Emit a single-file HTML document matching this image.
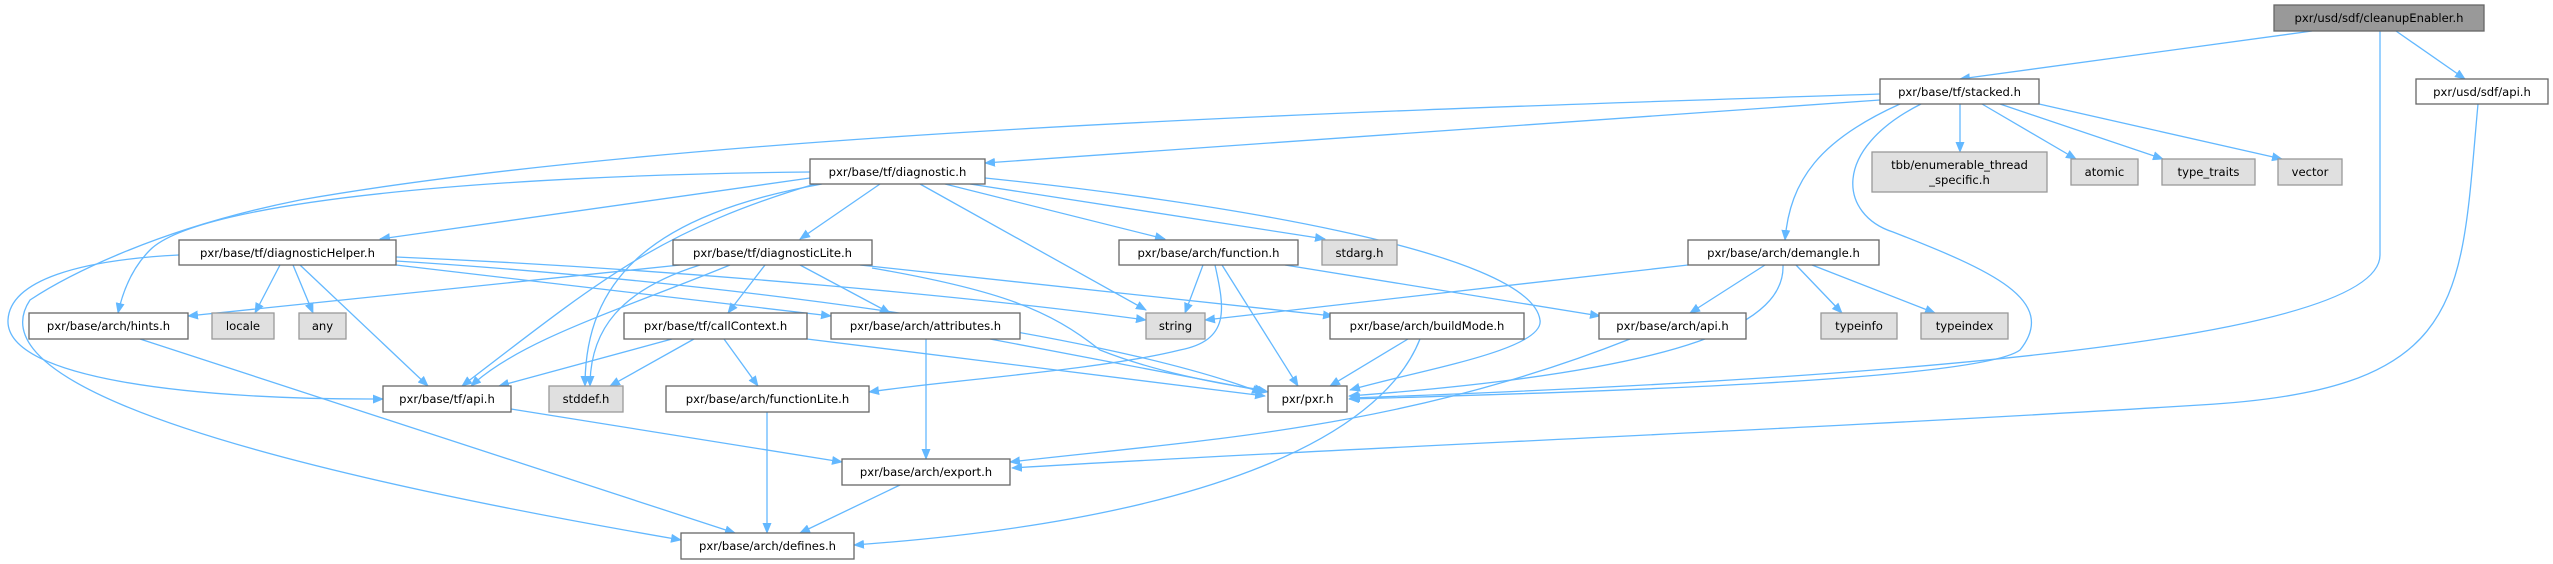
<!DOCTYPE html>
<html><head><meta charset="utf-8"><style>
html,body{margin:0;padding:0;background:#fff;}
svg{display:block}
text{font-family:"DejaVu Sans","Liberation Sans",sans-serif;font-size:11.6px;fill:#000;text-anchor:middle;}
.n{fill:#fff;stroke:#666;stroke-width:1.3}
.g{fill:#e0e0e0;stroke:#999;stroke-width:1.3}
.e{fill:none;stroke:#63b8ff;stroke-width:1.3}
</style></head><body>
<svg width="2553" height="564" viewBox="0 0 2553 564" xmlns="http://www.w3.org/2000/svg">
<defs><marker id="a" markerUnits="userSpaceOnUse" markerWidth="11" markerHeight="9" refX="10" refY="4.5" orient="auto"><path d="M0,0 L11,4.5 L0,9 z" fill="#63b8ff"/></marker></defs>
<g class="e" marker-end="url(#a)">
<path d="M2312,31 L1960,79"/>
<path d="M2380,31 L2380,255 C2380,330 2000,375 1350,398"/>
<path d="M2396,31 L2465,79"/>
<path d="M2478,104 C2460,300 2470,390 2200,405 C1800,430 1300,450 1012,468"/>
<path d="M1880,100 L985,163"/>
<path d="M1880,94 C1400,110 700,130 300,200 C150,230 60,280 30,300 C-10,360 100,440 681,540"/>
<path d="M1921,104 C1830,150 1840,215 1893,232 C1990,270 2060,300 2020,350 C1980,380 1600,392 1349,399"/>
<path d="M1900,104 C1820,140 1790,180 1785,240"/>
<path d="M1960,104 L1960,152"/>
<path d="M1982,104 L2076,159"/>
<path d="M2000,104 L2163,159"/>
<path d="M2039,104 L2282,159"/>
<path d="M810,178 L380,239"/>
<path d="M880,184 L800,239"/>
<path d="M815,184 C660,230 600,280 462,386"/>
<path d="M822,184 C650,215 585,280 585,386"/>
<path d="M920,184 L1146,310"/>
<path d="M945,184 L1165,239"/>
<path d="M970,184 L1325,239"/>
<path d="M985,178 C1200,200 1530,250 1540,320 C1545,350 1420,370 1350,390"/>
<path d="M810,172 C500,175 200,200 150,250 C130,270 122,295 118,313"/>
<path d="M280,265 L255,313"/>
<path d="M293,265 L313,313"/>
<path d="M300,265 L428,386"/>
<path d="M396,265 L831,316"/>
<path d="M396,257 C700,270 1000,300 1146,320"/>
<path d="M396,261 C700,280 1100,330 1262,393"/>
<path d="M179,255 C80,260 10,280 8,320 C5,380 200,400 383,399"/>
<path d="M680,265 L188,316"/>
<path d="M765,265 L728,313"/>
<path d="M800,265 L890,313"/>
<path d="M730,265 C620,310 520,340 471,386"/>
<path d="M700,265 C620,290 590,330 590,386"/>
<path d="M860,265 L1333,316"/>
<path d="M872,268 C1000,290 1050,310 1100,350 C1150,370 1220,385 1265,390"/>
<path d="M672,339 L499,386"/>
<path d="M694,339 L610,386"/>
<path d="M724,339 L758,386"/>
<path d="M807,339 L1265,396"/>
<path d="M926,339 L926,459"/>
<path d="M990,339 L1268,392"/>
<path d="M1203,265 L1185,313"/>
<path d="M1215,265 C1225,310 1230,340 1180,350 C1100,370 950,380 869,392"/>
<path d="M1222,265 L1298,386"/>
<path d="M1285,265 L1600,316"/>
<path d="M1408,339 L1330,386"/>
<path d="M1420,339 C1380,440 1200,520 854,545"/>
<path d="M1630,339 C1400,430 1200,440 1010,462"/>
<path d="M1688,265 L1205,320"/>
<path d="M1765,265 L1690,313"/>
<path d="M1783,265 C1785,320 1700,370 1349,396"/>
<path d="M1796,265 L1842,313"/>
<path d="M1812,265 L1935,313"/>
<path d="M511,409 L842,462"/>
<path d="M767,412 L767,533"/>
<path d="M900,485 L800,533"/>
<path d="M140,339 L735,533"/>
</g>
<g>
<rect x="2274" y="5" width="210" height="26" fill="#999" stroke="#666" stroke-width="1.3"/><text x="2379" y="22">pxr/usd/sdf/cleanupEnabler.h</text>
<rect class="n" x="1880" y="79" width="159" height="25"/><text x="1959.5" y="96">pxr/base/tf/stacked.h</text>
<rect class="n" x="2416" y="79" width="132" height="25"/><text x="2482" y="96">pxr/usd/sdf/api.h</text>
<rect class="n" x="810" y="159" width="175" height="25"/><text x="897.5" y="176">pxr/base/tf/diagnostic.h</text>
<rect class="g" x="1872" y="152" width="175" height="40"/><text x="1959.5" y="169">tbb/enumerable_thread</text><text x="1959.5" y="184">_specific.h</text>
<rect class="g" x="2071" y="159" width="67" height="26"/><text x="2104.5" y="176">atomic</text>
<rect class="g" x="2162" y="159" width="93" height="26"/><text x="2208.5" y="176">type_traits</text>
<rect class="g" x="2278" y="159" width="64" height="26"/><text x="2310" y="176">vector</text>
<rect class="n" x="1688" y="240" width="191" height="25"/><text x="1783.5" y="257">pxr/base/arch/demangle.h</text>
<rect class="n" x="179" y="240" width="217" height="25"/><text x="287.5" y="257">pxr/base/tf/diagnosticHelper.h</text>
<rect class="n" x="673" y="240" width="199" height="25"/><text x="772.5" y="257">pxr/base/tf/diagnosticLite.h</text>
<rect class="n" x="1119" y="240" width="179" height="25"/><text x="1208.5" y="257">pxr/base/arch/function.h</text>
<rect class="g" x="1322" y="240" width="75" height="25"/><text x="1359.5" y="257">stdarg.h</text>
<rect class="n" x="29" y="313" width="159" height="26"/><text x="108.5" y="330">pxr/base/arch/hints.h</text>
<rect class="g" x="212" y="313" width="62" height="26"/><text x="243" y="330">locale</text>
<rect class="g" x="299" y="313" width="47" height="26"/><text x="322.5" y="330">any</text>
<rect class="n" x="624" y="313" width="183" height="26"/><text x="715.5" y="330">pxr/base/tf/callContext.h</text>
<rect class="n" x="831" y="313" width="189" height="26"/><text x="925.5" y="330">pxr/base/arch/attributes.h</text>
<rect class="g" x="1146" y="313" width="59" height="26"/><text x="1175.5" y="330">string</text>
<rect class="n" x="1330" y="313" width="194" height="26"/><text x="1427" y="330">pxr/base/arch/buildMode.h</text>
<rect class="n" x="1599" y="313" width="147" height="26"/><text x="1672.5" y="330">pxr/base/arch/api.h</text>
<rect class="g" x="1821" y="313" width="76" height="26"/><text x="1859" y="330">typeinfo</text>
<rect class="g" x="1921" y="313" width="87" height="26"/><text x="1964.5" y="330">typeindex</text>
<rect class="n" x="383" y="386" width="128" height="26"/><text x="447" y="403">pxr/base/tf/api.h</text>
<rect class="g" x="549" y="386" width="74" height="26"/><text x="586" y="403">stddef.h</text>
<rect class="n" x="666" y="386" width="203" height="26"/><text x="767.5" y="403">pxr/base/arch/functionLite.h</text>
<rect class="n" x="1268" y="386" width="79" height="26"/><text x="1307.5" y="403">pxr/pxr.h</text>
<rect class="n" x="842" y="459" width="168" height="26"/><text x="926" y="476">pxr/base/arch/export.h</text>
<rect class="n" x="681" y="533" width="173" height="26"/><text x="767.5" y="550">pxr/base/arch/defines.h</text>
</g>
</svg>
</body></html>
